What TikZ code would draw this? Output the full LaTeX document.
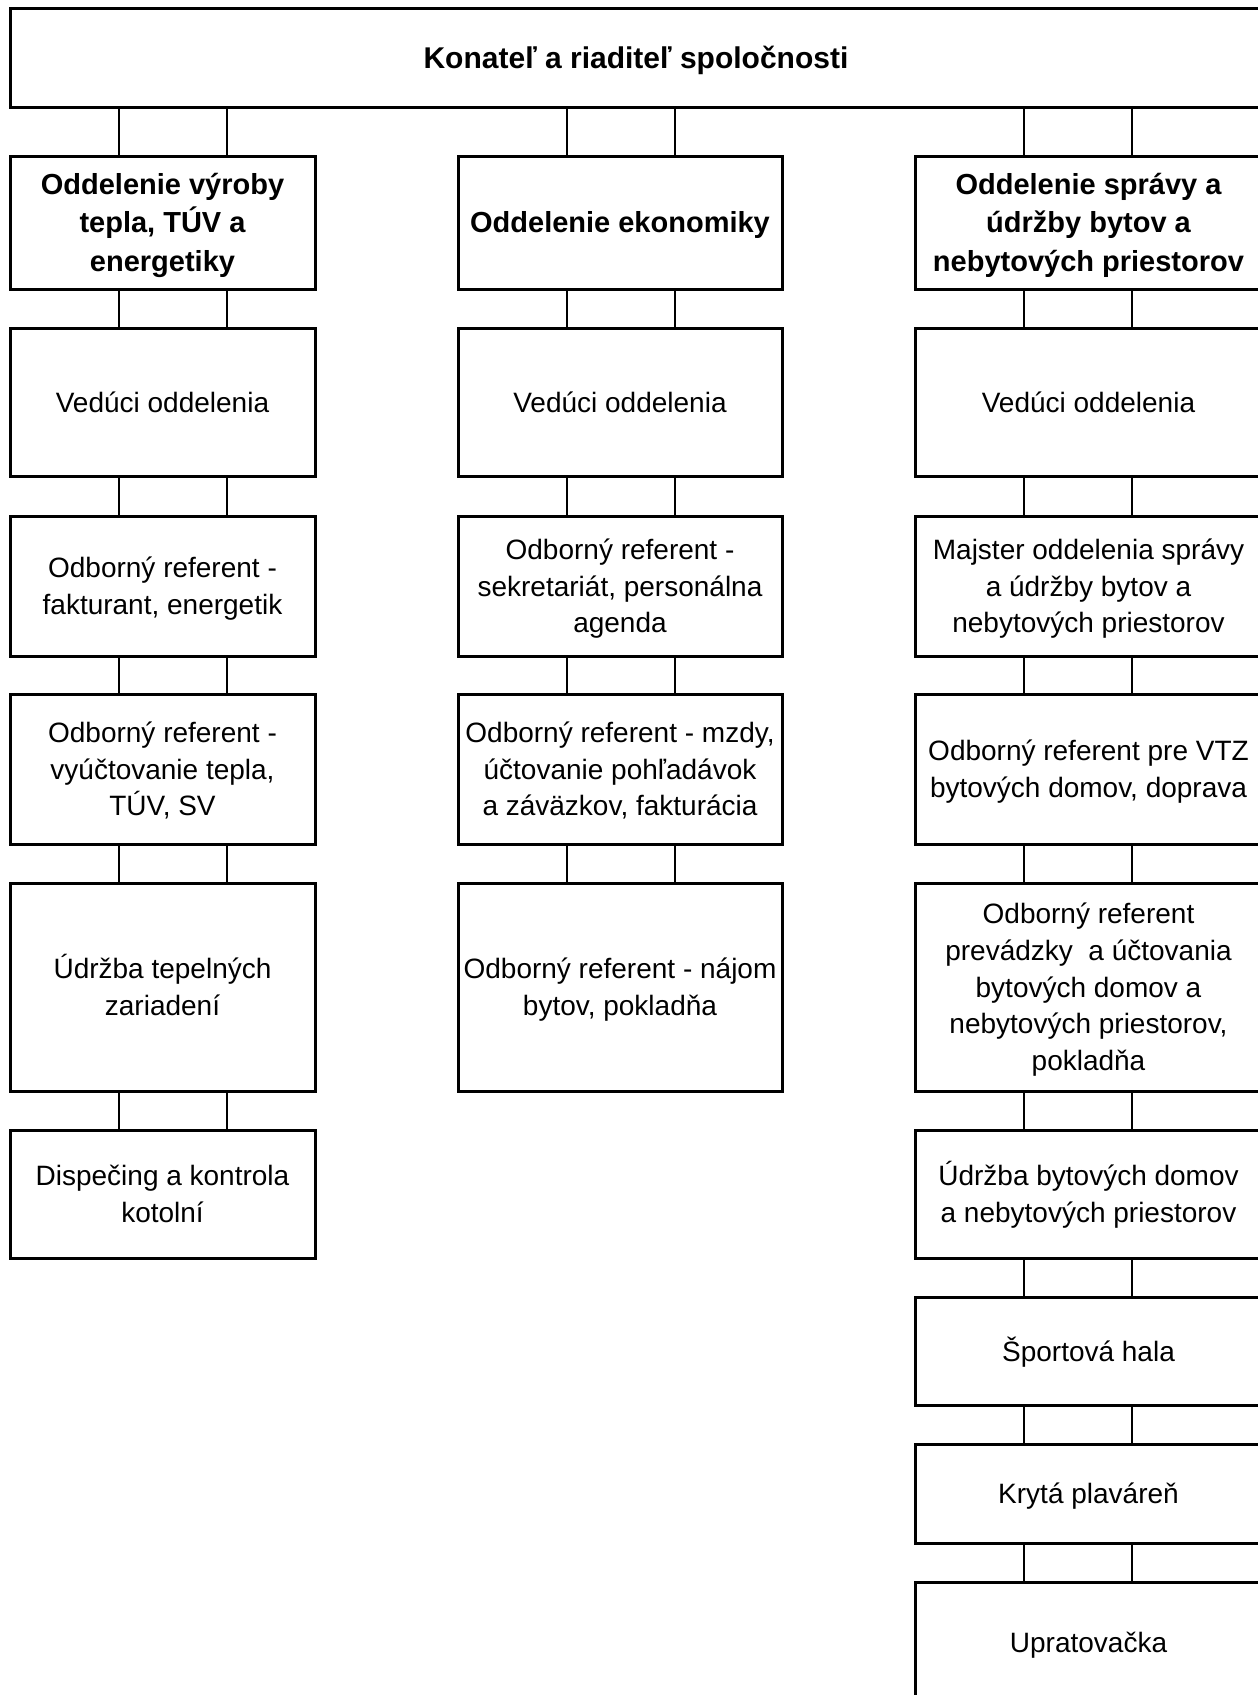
\documentclass[tikz,border=0pt]{standalone}
\usepackage{fontspec}
\setmainfont{Liberation Sans}
\usetikzlibrary{calc}
\newcommand\linkboxes[2]{%
  \draw[conn] ($(#2.north west)+(108.5,0)$) -- ($(#1.south -| #2.north west)+(108.5,0)$);
  \draw[conn] ($(#2.north west)+(216.5,0)$) -- ($(#1.south -| #2.north west)+(216.5,0)$);}
\begin{document}
\begin{tikzpicture}[x=1pt,y=-1pt,
  box/.style={draw, line width=3pt, rectangle, inner sep=0pt, outer sep=0pt, align=center,
    text depth=0pt, font=\fontsize{28}{36.7}\selectfont},
  headbox/.style={box, font=\fontsize{29}{38.4}\selectfont\bfseries},
  topbox/.style={box, text height=21.5pt, font=\fontsize{30}{36}\selectfont\bfseries},
  n1/.style={text height=20pt},
  n2/.style={text height=56.7pt},
  n3/.style={text height=93.4pt},
  n5/.style={text height=166.8pt},
  h1/.style={text height=20.8pt},
  h3/.style={text height=97.6pt},
  lcol/.style={minimum width=305pt},
  mcol/.style={minimum width=324pt},
  rcol/.style={minimum width=347pt},
  conn/.style={line width=2pt}]
\useasboundingbox (0,0) rectangle (1258,1695);
\clip (0,0) rectangle (1258,1695);
\fill[white] (0,0) rectangle (1258,1695);

\node[topbox, minimum width=1252pt, minimum height=99pt] (top) at (636,57.5) {Konateľ a riaditeľ spoločnosti};

% left column
\node[headbox,h3,lcol,minimum height=133pt] (L0) at (162.5,222.5) {Oddelenie výroby\\tepla, TÚV a\\energetiky};
\node[box,n1,lcol,minimum height=148pt] (L1) at (162.5,402) {Vedúci oddelenia};
\node[box,n2,lcol,minimum height=140pt] (L2) at (162.5,586) {Odborný referent -\\fakturant, energetik};
\node[box,n3,lcol,minimum height=150pt] (L3) at (162.5,769) {Odborný referent -\\vyúčtovanie tepla,\\TÚV, SV};
\node[box,n2,lcol,minimum height=208pt] (L4) at (162.5,987) {Údržba tepelných\\zariadení};
\node[box,n2,lcol,minimum height=128pt] (L5) at (162.5,1194) {Dispečing a kontrola\\kotolní};

% middle column
\node[headbox,h1,mcol,minimum height=133pt] (M0) at (620,222.5) {Oddelenie ekonomiky};
\node[box,n1,mcol,minimum height=148pt] (M1) at (620,402) {Vedúci oddelenia};
\node[box,n3,mcol,minimum height=140pt] (M2) at (620,586) {Odborný referent -\\sekretariát, personálna\\agenda};
\node[box,n3,mcol,minimum height=150pt] (M3) at (620,769) {Odborný referent - mzdy,\\účtovanie pohľadávok\\a záväzkov, fakturácia};
\node[box,n2,mcol,minimum height=208pt] (M4) at (620,987) {Odborný referent - nájom\\bytov, pokladňa};

% right column
\node[headbox,h3,rcol,minimum height=133pt] (R0) at (1088.5,222.5) {Oddelenie správy a\\údržby bytov a\\nebytových priestorov};
\node[box,n1,rcol,minimum height=148pt] (R1) at (1088.5,402) {Vedúci oddelenia};
\node[box,n3,rcol,minimum height=140pt] (R2) at (1088.5,586) {Majster oddelenia správy\\a údržby bytov a\\nebytových priestorov};
\node[box,n2,rcol,minimum height=150pt] (R3) at (1088.5,769) {Odborný referent pre VTZ\\bytových domov, doprava};
\node[box,n5,rcol,minimum height=208pt] (R4) at (1088.5,987) {Odborný referent\\prevádzky\ \ a účtovania\\bytových domov a\\nebytových priestorov,\\pokladňa};
\node[box,n2,rcol,minimum height=128pt] (R5) at (1088.5,1194) {Údržba bytových domov\\a nebytových priestorov};
\node[box,n1,rcol,minimum height=108pt] (R6) at (1088.5,1351) {Športová hala};
\node[box,n1,rcol,minimum height=99pt] (R7) at (1088.5,1493.5) {Krytá plaváreň};
\node[box,n1,rcol,minimum height=120pt] (R8) at (1088.5,1642) {Upratovačka};

% connectors
\linkboxes{top}{L0}
\linkboxes{top}{M0}
\linkboxes{top}{R0}
\linkboxes{L0}{L1}
\linkboxes{L1}{L2}
\linkboxes{L2}{L3}
\linkboxes{L3}{L4}
\linkboxes{L4}{L5}
\linkboxes{M0}{M1}
\linkboxes{M1}{M2}
\linkboxes{M2}{M3}
\linkboxes{M3}{M4}
\linkboxes{R0}{R1}
\linkboxes{R1}{R2}
\linkboxes{R2}{R3}
\linkboxes{R3}{R4}
\linkboxes{R4}{R5}
\linkboxes{R5}{R6}
\linkboxes{R6}{R7}
\linkboxes{R7}{R8}
\end{tikzpicture}
\end{document}
